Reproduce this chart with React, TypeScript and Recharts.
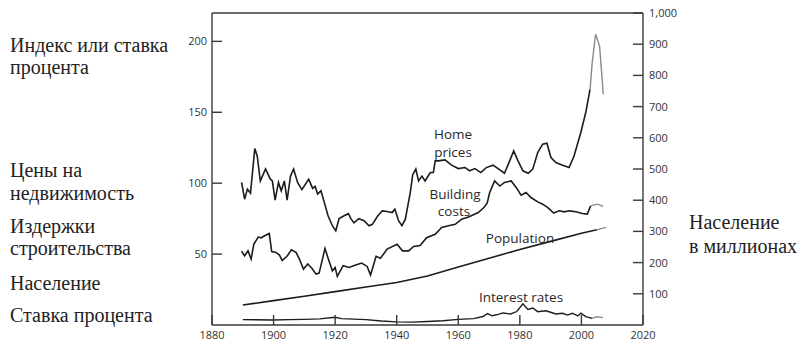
import { LineChart, Line, XAxis, YAxis, ReferenceLine } from "recharts";

type Pt = [number, number];

// index values (left axis), [year, value]
const homePrices: Pt[] = [
  [1889.6, 100.5], [1890.6, 88.7], [1891.5, 95.8], [1892.5, 93], [1893.9, 124.4],
  [1894.7, 119], [1895.7, 101.6], [1897.4, 110], [1898.9, 103], [1899.6, 101.6],
  [1900.5, 88], [1901.6, 100.5], [1902.5, 94.6], [1903.5, 101.6], [1904.4, 88],
  [1905.5, 105], [1906.5, 110], [1907.8, 100.5], [1909.2, 95.5], [1911.4, 102.8],
  [1912.7, 96.3], [1913.5, 97.7], [1914.3, 92.3], [1915.4, 94.6], [1917.7, 77],
  [1919.1, 70], [1920.2, 66.4], [1921.3, 75], [1922.9, 77], [1924.3, 78.5],
  [1925.1, 75], [1926.1, 72], [1927.7, 75], [1929.4, 73.5], [1931, 70],
  [1932.1, 71], [1933.7, 76.5], [1935.3, 80.5], [1936.9, 80], [1938.5, 79.3],
  [1939.4, 81.7], [1940.6, 73.5], [1941.7, 70], [1942.8, 74.6], [1944.4, 93.4],
  [1945.2, 106], [1946.2, 110], [1947.1, 101.6], [1948.2, 105], [1949.2, 101.6],
  [1950.9, 107.5], [1951.9, 107.5], [1952.5, 115.7], [1953.5, 115.7], [1955.7, 116.4],
  [1957.8, 112.7], [1960, 110.3], [1962.2, 111], [1963.7, 108.7], [1965.4, 110.3],
  [1967.3, 107.5], [1969.1, 111], [1971.3, 112.7], [1973.5, 109.4], [1975, 107],
  [1976.7, 115.7], [1978, 122.8], [1979.4, 115.7], [1981, 108.7], [1982.7, 107],
  [1984.2, 109.9], [1985.8, 121.6], [1987.4, 127.5], [1988.8, 128.2], [1990.1, 118.1],
  [1991.7, 114.6], [1993.9, 112.7], [1996, 111], [1997.6, 119.2], [1999.8, 135.7],
  [2001.4, 149.8], [2002.8, 166.2],
];
const homePricesTail: Pt[] = [
  [2002.8, 166.2], [2003.5, 185], [2004.6, 205], [2005.9, 196.7], [2007.1, 162.7],
];

const buildingCosts: Pt[] = [
  [1889.6, 52], [1890.6, 48.8], [1891.7, 52.3], [1892.7, 46.5], [1893.6, 57],
  [1895, 62], [1896, 61.5], [1897.1, 62.9], [1898.6, 64.5], [1899.4, 51.8],
  [1900.8, 51.2], [1901.9, 49.3], [1902.8, 45.5], [1904.3, 48.3], [1905.8, 53],
  [1907.3, 51.2], [1908.4, 46.5], [1909.7, 39.4], [1911.1, 43], [1912.5, 39.9],
  [1913.8, 35.9], [1914.8, 36.6], [1916.7, 54], [1917.8, 46.5], [1919.1, 38.2],
  [1920, 40.6], [1920.7, 34.3], [1922.6, 41.8], [1924.5, 40.6], [1926.7, 42.3],
  [1928.6, 43.7], [1930.4, 41.3], [1931.5, 35.2], [1933.3, 48.4], [1934.7, 47],
  [1936.9, 53.5], [1940.1, 57], [1941.9, 52.3], [1943.9, 52.3], [1945.5, 55.4],
  [1947.6, 56], [1949.7, 61.5], [1952.5, 64], [1954.6, 68.8], [1956.8, 70],
  [1959, 71], [1961.1, 74.6], [1963.5, 76.3], [1966.5, 79.3], [1968.4, 83],
  [1969.4, 86], [1970.2, 93.4], [1971.8, 101.6], [1973.5, 98], [1975, 100.5],
  [1977.2, 101.6], [1978.8, 97], [1980.4, 91.5], [1982, 93.4], [1983.6, 89.9],
  [1985.8, 86.8], [1987.4, 85.2], [1989, 82.9], [1991, 78.9], [1992.8, 80.5],
  [1994.4, 79.8], [1996, 80.5], [1998.2, 79.8], [2000.3, 78.6], [2001.9, 78.2],
  [2003, 84],
];
const buildingCostsTail: Pt[] = [[2003, 84], [2005.2, 85.2], [2007.1, 83.6]];

const interestRates: Pt[] = [
  [1890, 3.8], [1900, 3.5], [1905, 3.8], [1910, 4], [1915, 4.3], [1920, 5.5],
  [1922, 4.5], [1930, 3.8], [1935, 2.8], [1940, 2.2], [1945, 2], [1950, 2.5],
  [1955, 3], [1960, 4], [1965, 4.5], [1968, 6], [1969.5, 8], [1971, 6.5],
  [1973, 7.5], [1974.5, 8.5], [1977, 7.8], [1979, 9.5], [1981, 15], [1982.6, 11],
  [1984.2, 12], [1985.8, 9.4], [1988.4, 10], [1990, 9], [1991.7, 7.8],
  [1993.9, 8.3], [1995.5, 7], [1997.1, 8.3], [1998.8, 6.4], [1999.8, 8.3],
  [2001.4, 5.9], [2003.5, 4.7],
];
const interestRatesTail: Pt[] = [[2003.5, 4.7], [2005, 5.8], [2007, 5.2]];

// population in millions (right axis)
const population: Pt[] = [
  [1890, 64], [1900, 78], [1910, 92], [1920, 107], [1930, 122], [1940, 136],
  [1950, 157], [1960, 186], [1970, 214], [1980, 242], [1990, 268], [2000, 294],
  [2005, 305],
];
const populationTail: Pt[] = [[2005, 305], [2008, 313]];

const yearTicks = [1880, 1900, 1920, 1940, 1960, 1980, 2000, 2020];
const indexTicks = [50, 100, 150, 200];
const popTicks = [100, 200, 300, 400, 500, 600, 700, 800, 900, 1000];

const leftNotes: [string, number][] = [
  ["Индекс или ставка", 45],
  ["процента", 67],
  ["Цены на", 170],
  ["недвижимость", 193],
  ["Издержки", 226],
  ["строительства", 248],
  ["Население", 283],
  ["Ставка процента", 315],
];
const rightNotes: [string, number][] = [
  ["Население", 222],
  ["в миллионах", 246],
];
const seriesNotes: [string, number, number][] = [
  ["Home", 453, 134],
  ["prices", 453, 152],
  ["Building", 455, 194],
  ["costs", 454, 211],
  ["Population", 520, 238],
  ["Interest rates", 521, 297],
];

const rows = (pts: Pt[]) => pts.map(([year, v]) => ({ year, v }));

const INK = "#1c1c1c";
const FADED = "#8a8a8a";
const AXIS = "#3a3a3a";
const tickFont = { fontSize: 11, fill: "#333", fontFamily: "Open Sans" };
const SERIF = "Liberation Serif";

export default function App() {
  return (
    <div style={{ position: "absolute", left: 0, top: 0, width: 800, height: 351, background: "#fff" }}>
      <LineChart width={800} height={351} margin={{ top: 13, right: 0, bottom: 0, left: 0 }}>
        <XAxis
          type="number"
          dataKey="year"
          domain={[1880, 2020]}
          ticks={yearTicks}
          height={26}
          tickSize={-10}
          tickMargin={16}
          tick={tickFont}
          stroke={AXIS}
          strokeWidth={1.4}
        />
        <YAxis
          yAxisId="left"
          domain={[0, 220]}
          ticks={indexTicks}
          width={212}
          tickSize={-10}
          tickMargin={15}
          tick={tickFont}
          stroke={AXIS}
          strokeWidth={1.4}
        />
        <YAxis
          yAxisId="right"
          orientation="right"
          domain={[0, 1000]}
          ticks={popTicks}
          width={157}
          tickSize={-10}
          tickMargin={16}
          tick={tickFont}
          tickFormatter={(v: number) => v.toLocaleString("en-US")}
          stroke={AXIS}
          strokeWidth={1.4}
        />
        <ReferenceLine yAxisId="left" y={220} stroke={AXIS} strokeWidth={1.4} />

        <Line yAxisId="left" data={rows(homePrices)} dataKey="v" stroke={INK} strokeWidth={1.6} dot={false} isAnimationActive={false} />
        <Line yAxisId="left" data={rows(homePricesTail)} dataKey="v" stroke={FADED} strokeWidth={1.4} dot={false} isAnimationActive={false} />
        <Line yAxisId="left" data={rows(buildingCosts)} dataKey="v" stroke={INK} strokeWidth={1.6} dot={false} isAnimationActive={false} />
        <Line yAxisId="left" data={rows(buildingCostsTail)} dataKey="v" stroke={FADED} strokeWidth={1.4} dot={false} isAnimationActive={false} />
        <Line yAxisId="right" data={rows(population)} dataKey="v" stroke={INK} strokeWidth={1.6} dot={false} isAnimationActive={false} />
        <Line yAxisId="right" data={rows(populationTail)} dataKey="v" stroke={FADED} strokeWidth={1.4} dot={false} isAnimationActive={false} />
        <Line yAxisId="left" data={rows(interestRates)} dataKey="v" stroke={INK} strokeWidth={1.4} dot={false} isAnimationActive={false} />
        <Line yAxisId="left" data={rows(interestRatesTail)} dataKey="v" stroke={FADED} strokeWidth={1.3} dot={false} isAnimationActive={false} />
      </LineChart>

      {seriesNotes.map(([t, x, y]) => (
        <div
          key={t}
          style={{
            position: "absolute",
            left: x,
            top: y,
            transform: "translate(-50%, -50%)",
            fontFamily: "Open Sans",
            fontSize: 13.5,
            color: "#2a2a2a",
            whiteSpace: "nowrap",
            lineHeight: "14px",
          }}
        >
          {t}
        </div>
      ))}

      {leftNotes.map(([t, y]) => (
        <div
          key={t + y}
          style={{
            position: "absolute",
            left: 10,
            top: y - 11,
            fontFamily: SERIF,
            fontSize: 20,
            lineHeight: "22px",
            color: "#222",
            whiteSpace: "nowrap",
          }}
        >
          {t}
        </div>
      ))}
      {rightNotes.map(([t, y]) => (
        <div
          key={t + y}
          style={{
            position: "absolute",
            left: 689,
            top: y - 11,
            fontFamily: SERIF,
            fontSize: 20,
            lineHeight: "22px",
            color: "#222",
            whiteSpace: "nowrap",
          }}
        >
          {t}
        </div>
      ))}
    </div>
  );
}
